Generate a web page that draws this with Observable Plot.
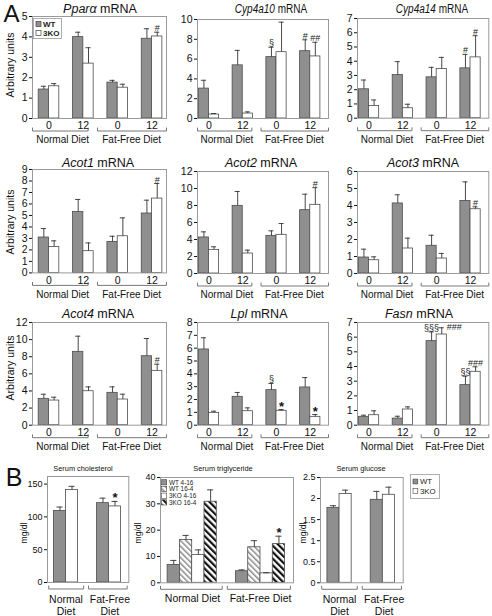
<!DOCTYPE html>
<html>
<head>
<meta charset="utf-8">
<script src="https://cdn.jsdelivr.net/npm/d3@7"></script>
<script src="https://cdn.jsdelivr.net/npm/@observablehq/plot@0.6"></script>
<style>
  html, body { margin: 0; padding: 0; background: #fff; }
  #root { position: relative; width: 492px; height: 616px; overflow: hidden; background: #fff;
          font-family: "Liberation Sans", Arial, Helvetica, sans-serif; color: #111; }
  .t { position: absolute; white-space: nowrap; line-height: 1; transform: translate(-50%, -50%); }
</style>
</head>
<body>
<div id="root"></div>
<script>
// ================= DATA =================
const hours = ["0", "12", "0", "12"];
const diets = ["Normal Diet", "Fat-Free Diet"];
const genotypes = ["WT", "3KO"];
const geneNames = ["Ppar\u03b1", "Cyp4a10", "Cyp4a14", "Acot1", "Acot2", "Acot3", "Acot4", "Lpl", "Fasn"];

// order of values: Normal 0h, Normal 12h, Fat-free 0h, Fat-free 12h
const pparaWT = [1.42, 3.99, 1.76, 3.91];
const pparaWTerr = [0.16, 0.24, 0.11, 0.49];
const ppara3KO = [1.58, 2.69, 1.51, 4.02];
const ppara3KOerr = [0.13, 0.78, 0.17, 0.21];
const pparaSigWT = ["", "", "", ""];
const pparaSig3KO = ["", "", "", "#"];
const pparaTicks = [0, 1, 2, 3, 4, 5];

const cyp4a10WT = [3.02, 5.37, 6.2, 6.8];
const cyp4a10WTerr = [0.84, 1.51, 1.0, 1.15];
const cyp4a103KO = [0.40, 0.5, 6.7, 6.27];
const cyp4a103KOerr = [0.1, 0.17, 3.03, 1.43];
const cyp4a10SigWT = ["", "", "\u00a7", "#"];
const cyp4a10Sig3KO = ["", "", "", "##"];
const cyp4a10Ticks = [0, 2, 4, 6, 8, 10];

const cyp4a14WT = [2.03, 3.03, 2.87, 3.5];
const cyp4a14WTerr = [0.65, 0.94, 0.7, 0.98];
const cyp4a143KO = [0.86, 0.7, 3.45, 4.27];
const cyp4a143KOerr = [0.42, 0.28, 0.82, 1.52];
const cyp4a14SigWT = ["", "", "", "#"];
const cyp4a14Sig3KO = ["", "", "", "#"];
const cyp4a14Ticks = [0, 1, 2, 3, 4, 5, 6, 7];

const acot1WT = [3.08, 5.31, 2.7, 5.17];
const acot1WTerr = [0.78, 1.08, 0.49, 1.16];
const acot13KO = [2.26, 1.89, 3.19, 6.47];
const acot13KOerr = [0.53, 0.72, 1.6, 1.31];
const acot1SigWT = ["", "", "", ""];
const acot1Sig3KO = ["", "", "", "#"];
const acot1Ticks = [0, 1, 2, 3, 4, 5, 6, 7, 8, 9];

const acot2WT = [4.24, 7.96, 4.43, 7.45];
const acot2WTerr = [0.66, 1.69, 0.59, 1.88];
const acot23KO = [2.78, 2.35, 4.55, 8.08];
const acot23KOerr = [0.36, 0.4, 1.33, 2.02];
const acot2SigWT = ["", "", "", ""];
const acot2Sig3KO = ["", "", "", "#"];
const acot2Ticks = [0, 2, 4, 6, 8, 10, 12];

const acot3WT = [0.94, 4.12, 1.63, 4.27];
const acot3WTerr = [0.49, 0.51, 0.62, 1.12];
const acot33KO = [0.78, 1.47, 0.88, 3.78];
const acot33KOerr = [0.2, 0.61, 0.3, 0.14];
const acot3SigWT = ["", "", "", ""];
const acot3Sig3KO = ["", "", "", "#"];
const acot3Ticks = [0, 1, 2, 3, 4, 5, 6];

const acot4WT = [3.08, 8.57, 3.78, 8.06];
const acot4WTerr = [0.54, 1.83, 0.7, 2.07];
const acot43KO = [2.88, 3.97, 3.0, 6.35];
const acot43KOerr = [0.39, 0.51, 0.62, 0.78];
const acot4SigWT = ["", "", "", ""];
const acot4Sig3KO = ["", "", "", "#"];
const acot4Ticks = [0, 2, 4, 6, 8, 10, 12];

const lplWT = [5.9, 2.21, 2.73, 2.94];
const lplWTerr = [0.91, 0.34, 0.52, 0.77];
const lpl3KO = [0.96, 1.09, 1.12, 0.65];
const lpl3KOerr = [0.13, 0.26, 0.1, 0.18];
const lplSigWT = ["", "", "\u00a7", ""];
const lplSig3KO = ["", "", "*", "*"];
const lplTicks = [0, 1, 2, 3, 4, 5, 6, 7, 8];

const fasnWT = [0.57, 0.45, 5.73, 2.73];
const fasnWTerr = [0.11, 0.16, 0.63, 0.61];
const fasn3KO = [0.68, 1.07, 6.18, 3.64];
const fasn3KOerr = [0.3, 0.18, 0.46, 0.34];
const fasnSigWT = ["", "", "\u00a7\u00a7\u00a7", "\u00a7\u00a7"];
const fasnSig3KO = ["", "", "###", "###"];
const fasnTicks = [0, 1, 2, 3, 4, 5, 6, 7];

// Panel B
const cholWT = [109, 121];
const cholWTerr = [6, 7.6];
const chol3KO = [141, 116];
const chol3KOerr = [5.6, 7.6];
const cholSig3KO = ["", "*"];
const cholTicks = [0, 50, 100, 150];

const tgSeries = ["WT 4-16", "WT 16-4", "3KO 4-16", "3KO 16-4"];
const tgNormal = [6.8, 16.3, 10.6, 30.8];
const tgNormalErr = [1.7, 1.7, 1.9, 4.5];
const tgFatFree = [4.4, 13.5, 3.6, 14.7];
const tgFatFreeErr = [0.5, 2.5, 0.2, 3.0];
const tgSigFatFree = ["", "", "", "*"];
const tgTicks = [0, 10, 20, 30, 40];

const gluWT = [1.78, 1.97];
const gluWTerr = [0.05, 0.2];
const glu3KO = [2.11, 2.09];
const glu3KOerr = [0.09, 0.18];
const gluTicks = [0, 0.5, 1, 1.5, 2, 2.5];

// ================= STYLE / LAYOUT =================
const FONT = '"Liberation Sans", Arial, Helvetica, sans-serif';
const GRAY = "#8f8f8f";
const BAR_STROKE = "#4d4d4d";
const root = document.getElementById("root");

function addText(html, x, y, style = {}, transform) {
  const d = document.createElement("div");
  d.className = "t";
  d.innerHTML = html;
  d.style.left = x + "px";
  d.style.top = y + "px";
  Object.assign(d.style, style);
  if (transform) d.style.transform = transform;
  root.appendChild(d);
  return d;
}

// overlay svg for pattern defs and legends
const overlay = d3.select(root).append("svg")
  .attr("width", 492).attr("height", 616)
  .style("position", "absolute").style("left", "0px").style("top", "0px")
  .style("z-index", 5).style("pointer-events", "none")
  .attr("font-family", FONT);
const defs = overlay.append("defs");
function hatch(id, color, sw, gap) {
  const p = defs.append("pattern").attr("id", id).attr("patternUnits", "userSpaceOnUse")
    .attr("width", gap).attr("height", gap).attr("patternTransform", "rotate(-45)");
  p.append("rect").attr("width", gap).attr("height", gap).attr("fill", "white");
  p.append("rect").attr("x", 0).attr("y", 0).attr("width", sw).attr("height", gap).attr("fill", color);
}
hatch("hatchGray", "#8a8a8a", 1.5, 4);
hatch("hatchBlack", "#111", 2.2, 4.6);

function drawPanel(p) {
  const [fx0, fx1, fy0, fy1] = p.frame;
  const ML = 40, MR = 24, MT = 24, MB = 50;
  const W = fx1 - fx0 + ML + MR, H = fy1 - fy0 + MT + MB;
  const [d0, d1] = p.xDomain;
  const [ymin, ymax] = p.yDomain;
  const k = (ymax - ymin) / (fy1 - fy0);
  const xf = f => d0 + f * (d1 - d0);
  const brPts = [];
  p.brFrac.forEach(([a, b], i) => {
    const yb = ymin - p.brOff * k, yu = ymin - (p.brOff - 3) * k;
    brPts.push({z: i, x: xf(a), y: yu}, {z: i, x: xf(a), y: yb}, {z: i, x: xf(b), y: yb}, {z: i, x: xf(b), y: yu});
  });
  const rows = p.rows;
  const withErr = rows.filter(d => d.e > 0);
  const sigTop = rows.filter(d => d.sig && !d.side && d.sig !== "*");
  const sigStar = rows.filter(d => d.sig === "*");
  const sigSide = rows.filter(d => d.sig && d.side);
  const cap = p.cap;
  const marks = [
    Plot.rect(rows, {x1: d => d.c - d.hw, x2: d => d.c + d.hw, y1: () => ymin, y2: "v", fill: "fill", stroke: BAR_STROKE, strokeWidth: 0.8}),
    Plot.ruleX(withErr, {x: "c", y1: "v", y2: d => d.v + d.e, stroke: "#333", strokeWidth: 0.9}),
    Plot.ruleY(withErr, {y: d => d.v + d.e, x1: d => d.c - cap, x2: d => d.c + cap, stroke: "#333", strokeWidth: 0.9}),
    Plot.frame({stroke: "#9a9a9a", strokeWidth: 1}),
    Plot.axisY({ticks: p.yTicks, tickFormat: d => String(d), tickSize: 3, tickPadding: 2, fontSize: p.tickFont, label: null, anchor: "left"}),
    Plot.line(brPts, {x: "x", y: "y", z: "z", stroke: "#777", strokeWidth: 1}),
    Plot.text(sigTop, {x: "c", y: d => d.v + d.e, text: "sig", lineAnchor: "bottom", dy: -1, fontSize: p.sigFont, fill: "#222"}),
    Plot.text(sigStar, {x: "c", y: d => d.v + d.e, text: "sig", lineAnchor: "bottom", dy: 1, fontSize: p.starFont, fontWeight: "bold", fill: "#111"}),
    Plot.text(sigSide, {x: "c", y: d => d.v + d.e, text: "sig", lineAnchor: "middle", textAnchor: "start", dx: 5, dy: -1, fontSize: p.sigFont, fill: "#222"}),
    Plot.text(p.dietLabels, {x: (d, i) => p.dietX[i], frameAnchor: "bottom", dy: p.dietOff, lineAnchor: "middle", lineHeight: 1.15, fontSize: p.dietFont, fill: "#111"})
  ];
  if (p.xLabels) {
    marks.push(Plot.text(p.xLabels, {x: (d, i) => i, frameAnchor: "bottom", dy: 7.5, lineAnchor: "middle", fontSize: 10.5, fill: "#111"}));
  }
  const svg = Plot.plot({
    width: W, height: H,
    marginLeft: ML, marginRight: MR, marginTop: MT, marginBottom: MB,
    x: {type: "linear", domain: p.xDomain, axis: null},
    y: {type: "linear", domain: p.yDomain, axis: null},
    color: {type: "identity"},
    style: {fontFamily: FONT, color: "#111", background: "transparent", overflow: "visible"},
    marks
  });
  svg.style.position = "absolute";
  svg.style.left = (fx0 - ML) + "px";
  svg.style.top = (fy0 - MT) + "px";
  svg.style.maxWidth = "none";
  svg.style.overflow = "visible";
  root.appendChild(svg);
}

// ---------- Panel A ----------
const BW_A = 0.3;
function geneRows(wt, wte, ko, koe, sw, sk, side) {
  const rows = [];
  hours.forEach((h, g) => {
    rows.push({c: g - BW_A / 2, hw: BW_A / 2, v: wt[g], e: wte[g], fill: GRAY, sig: sw[g], side: false});
    rows.push({c: g + BW_A / 2, hw: BW_A / 2, v: ko[g], e: koe[g], fill: "white", sig: sk[g], side: side && side.includes(g)});
  });
  return rows;
}
const XD1 = [-0.48, 3.42], XD2 = [-0.34, 3.54];
const genes = [
  {rows: geneRows(pparaWT, pparaWTerr, ppara3KO, ppara3KOerr, pparaSigWT, pparaSig3KO), ticks: pparaTicks},
  {rows: geneRows(cyp4a10WT, cyp4a10WTerr, cyp4a103KO, cyp4a103KOerr, cyp4a10SigWT, cyp4a10Sig3KO), ticks: cyp4a10Ticks},
  {rows: geneRows(cyp4a14WT, cyp4a14WTerr, cyp4a143KO, cyp4a143KOerr, cyp4a14SigWT, cyp4a14Sig3KO), ticks: cyp4a14Ticks},
  {rows: geneRows(acot1WT, acot1WTerr, acot13KO, acot13KOerr, acot1SigWT, acot1Sig3KO), ticks: acot1Ticks},
  {rows: geneRows(acot2WT, acot2WTerr, acot23KO, acot23KOerr, acot2SigWT, acot2Sig3KO), ticks: acot2Ticks},
  {rows: geneRows(acot3WT, acot3WTerr, acot33KO, acot33KOerr, acot3SigWT, acot3Sig3KO), ticks: acot3Ticks},
  {rows: geneRows(acot4WT, acot4WTerr, acot43KO, acot43KOerr, acot4SigWT, acot4Sig3KO), ticks: acot4Ticks},
  {rows: geneRows(lplWT, lplWTerr, lpl3KO, lpl3KOerr, lplSigWT, lplSig3KO), ticks: lplTicks},
  {rows: geneRows(fasnWT, fasnWTerr, fasn3KO, fasn3KOerr, fasnSigWT, fasnSig3KO, [2]), ticks: fasnTicks}
];
const layoutA = [
  {frame: [32, 166, 16, 118], xd: XD1, title: [100, 8.5]},
  {frame: [196.7, 327.7, 19, 118], xd: XD2, title: [271, 8.5], squeeze: 0.8},
  {frame: [356.7, 488, 18.3, 118], xd: XD2, title: [432, 8.5], squeeze: 0.8},
  {frame: [32, 166, 169.3, 272.7], xd: XD1, title: [98, 162.7]},
  {frame: [196.7, 327.7, 170.7, 272.7], xd: XD2, title: [261, 162.7]},
  {frame: [356.7, 488, 170.7, 272.7], xd: XD2, title: [423, 162.7]},
  {frame: [32, 166, 322, 424.7], xd: XD1, title: [98, 314]},
  {frame: [196.7, 327.7, 322, 424.7], xd: XD2, title: [259, 314]},
  {frame: [356.7, 488, 322, 424.7], xd: XD2, title: [419, 314]}
];
genes.forEach((g, i) => {
  const L = layoutA[i];
  const xs = f => L.xd[0] + f * (L.xd[1] - L.xd[0]);
  drawPanel({
    frame: L.frame, xDomain: L.xd, yDomain: [0, g.ticks[g.ticks.length - 1]], yTicks: g.ticks,
    rows: g.rows, cap: 0.075, tickFont: 10.5, sigFont: 9, starFont: 13,
    brFrac: [[0.0, 0.415], [0.485, 1.0]], brOff: 12.5,
    dietLabels: diets, dietX: [xs(0.225), xs(0.74)], dietOff: 21, dietFont: 10,
    xLabels: hours
  });
  const tr = L.squeeze ? `translate(-50%,-50%) scaleX(${L.squeeze})` : undefined;
  addText(`<i>${geneNames[i]}</i> mRNA`, L.title[0], L.title[1], {fontSize: "12.5px"}, tr);
});
// y axis titles
[65, 222, 368].forEach(cy => addText("Arbitrary units", 10, cy, {fontSize: "10.5px"}, "translate(-50%,-50%) rotate(-90deg)"));
addText("A", 11.5, 14, {fontSize: "24px", lineHeight: "1.1"});
addText("B", 14, 478, {fontSize: "25px", lineHeight: "1.1"});

// legend A
const lgA = overlay.append("g");
lgA.append("rect").attr("x", 33.5).attr("y", 18.5).attr("width", 28).attr("height", 20).attr("fill", "white").attr("stroke", "#9a9a9a").attr("stroke-width", 0.8);
genotypes.forEach((gname, i) => {
  const cy = 24 + i * 9;
  lgA.append("rect").attr("x", 36).attr("y", cy - 2.5).attr("width", 5).attr("height", 5)
    .attr("fill", i ? "white" : GRAY).attr("stroke", "#444").attr("stroke-width", 0.7);
  lgA.append("text").attr("x", 43).attr("y", cy).attr("dy", "0.35em").attr("font-size", 8).attr("font-weight", "bold").attr("fill", "#222").text(gname);
});

// ---------- Panel B ----------
const BW_B = 0.28;
function pairRows(wt, wte, ko, koe, sk) {
  const rows = [];
  diets.forEach((dname, g) => {
    rows.push({c: g - BW_B / 2, hw: BW_B / 2, v: wt[g], e: wte[g], fill: GRAY, sig: "", side: false});
    rows.push({c: g + BW_B / 2, hw: BW_B / 2, v: ko[g], e: koe[g], fill: "white", sig: sk ? sk[g] : "", side: false});
  });
  return rows;
}
const twoLine = diets.map(d => d.replace(" ", "\n"));
const brB = [[0.015, 0.445], [0.505, 0.98]];
const bCommon = {cap: 0.07, tickFont: 9, sigFont: 9, starFont: 13, brFrac: brB, brOff: 6.5, dietFont: 10.5};

drawPanel(Object.assign({}, bCommon, {
  frame: [46.7, 128, 475.7, 581.7], xDomain: [-0.43, 1.46], yDomain: [0, 161.6], yTicks: cholTicks,
  rows: pairRows(cholWT, cholWTerr, chol3KO, chol3KOerr, cholSig3KO),
  dietLabels: twoLine, dietX: [0, 1.02], dietOff: 22.5
}));

const TG_BW = 0.18;
const tgFills = [GRAY, "url(#hatchGray)", "white", "url(#hatchBlack)"];
const tgRows = [];
[[tgNormal, tgNormalErr, ["", "", "", ""]], [tgFatFree, tgFatFreeErr, tgSigFatFree]].forEach(([vals, errs, sigs], g) => {
  tgSeries.forEach((s, j) => {
    tgRows.push({c: g + (j - 1.5) * TG_BW, hw: TG_BW / 2, v: vals[j], e: errs[j], fill: tgFills[j], sig: sigs[j], side: false});
  });
});
drawPanel(Object.assign({}, bCommon, {
  frame: [160, 293, 476.7, 582], xDomain: [-0.464, 1.483], yDomain: [0, 40], yTicks: tgTicks,
  rows: tgRows, cap: 0.045, brFrac: [[0.0, 0.464], [0.502, 0.977]],
  dietLabels: diets, dietX: [0.005, 1.0], dietOff: 15
}));

drawPanel(Object.assign({}, bCommon, {
  frame: [320, 402.7, 476.7, 582], xDomain: [-0.44, 1.47], yDomain: [0, 2.5], yTicks: gluTicks,
  rows: pairRows(gluWT, gluWTerr, glu3KO, glu3KOerr, null),
  dietLabels: twoLine, dietX: [0, 1.03], dietOff: 22.5
}));

addText("Serum cholesterol", 83, 469, {fontSize: "8px"}, "translate(-50%,-50%) scaleX(0.92)");
addText("Serum triglyceride", 222.5, 469, {fontSize: "8px"}, "translate(-50%,-50%) scaleX(0.92)");
addText("Serum glucose", 360.5, 469, {fontSize: "8px"}, "translate(-50%,-50%) scaleX(0.92)");
[[24, 533], [138, 533], [303, 533]].forEach(([x, y]) => addText("mg/dl", x, y, {fontSize: "8.5px"}, "translate(-50%,-50%) rotate(-90deg)"));

// legend triglyceride
const lgT = overlay.append("g");
tgSeries.forEach((s, j) => {
  const cy = 482.3 + j * 6.7;
  lgT.append("rect").attr("x", 161.5).attr("y", cy - 2.6).attr("width", 5.2).attr("height", 5.2)
    .attr("fill", tgFills[j]).attr("stroke", "#444").attr("stroke-width", 0.6);
  lgT.append("text").attr("x", 169).attr("y", cy).attr("dy", "0.35em").attr("font-size", 6.4).attr("fill", "#222").text(s);
});

// legend glucose
const lgG = overlay.append("g");
lgG.append("rect").attr("x", 410.5).attr("y", 474.5).attr("width", 29).attr("height", 24).attr("fill", "white").attr("stroke", "#9a9a9a").attr("stroke-width", 0.8);
genotypes.forEach((gname, i) => {
  const cy = 481.5 + i * 9.5;
  lgG.append("rect").attr("x", 413).attr("y", cy - 2.4).attr("width", 4.8).attr("height", 4.8)
    .attr("fill", i ? "white" : GRAY).attr("stroke", "#444").attr("stroke-width", 0.6);
  lgG.append("text").attr("x", 420).attr("y", cy).attr("dy", "0.35em").attr("font-size", 7.8).attr("fill", "#222").text(gname);
});
</script>
</body>
</html>
